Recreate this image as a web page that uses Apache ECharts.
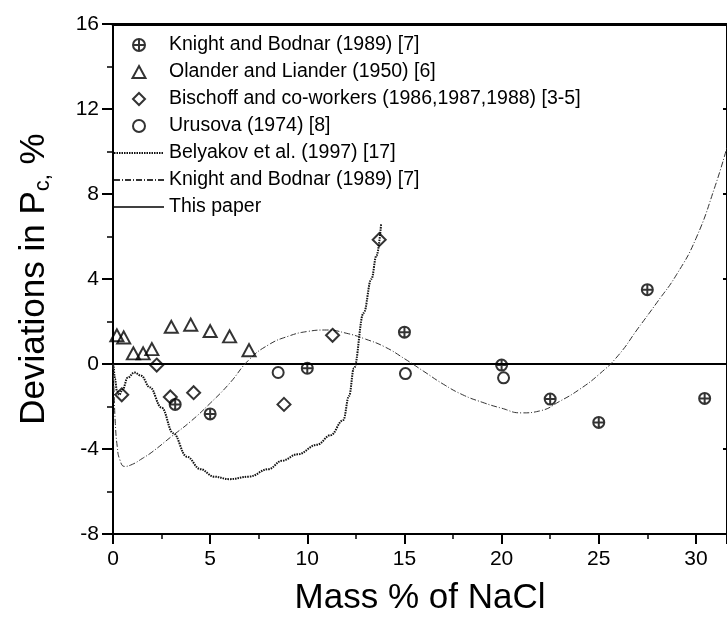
<!DOCTYPE html>
<html><head><meta charset="utf-8">
<script src="https://cdn.jsdelivr.net/npm/echarts@6/dist/echarts.min.js"></script>
<style>html,body{margin:0;padding:0;background:#fff}#c{width:727px;height:622px}</style>
</head><body><div id="c"></div>
<script>
// ---- data ----
const knightX = [3.2, 5.0, 10.0, 15.0, 20.0, 22.5, 25.0, 27.5, 30.45];
const knightY = [-1.9, -2.35, -0.2, 1.5, -0.05, -1.65, -2.75, 3.5, -1.62];

const olanderX = [0.2, 0.55, 1.05, 1.55, 2.0, 3.0, 4.0, 5.0, 6.0, 7.0];
const olanderY = [1.35, 1.25, 0.5, 0.5, 0.7, 1.75, 1.85, 1.55, 1.3, 0.65];

const bischoffX = [0.45, 2.25, 2.95, 4.15, 8.8, 11.3, 13.7];
const bischoffY = [-1.45, -0.05, -1.55, -1.35, -1.9, 1.35, 5.85];

const urusovaX = [8.5, 15.05, 20.1];
const urusovaY = [-0.4, -0.45, -0.65];

const belyakovX = [0.03, 0.1, 0.2, 0.32, 0.5, 0.75, 1.1, 1.45, 1.9, 2.5, 3.1, 3.8, 4.5, 5.2, 6.0, 7.0, 8.0, 8.7, 9.5, 10.5, 11.2, 11.85, 12.15, 12.4, 12.9, 13.3, 13.56, 13.8];
const belyakovY = [0, -0.7, -1.25, -1.45, -1.2, -0.65, -0.4, -0.55, -1.1, -2.05, -3.26, -4.36, -4.95, -5.3, -5.42, -5.3, -4.95, -4.55, -4.25, -3.8, -3.35, -2.64, -1.5, -0.2, 2.4, 4.0, 5.1, 6.6];

const knightFitX = [0, 0.05, 0.12, 0.22, 0.35, 0.6, 1.0, 1.5, 2.0, 3.0, 4.0, 5.0, 6.0, 7.0, 8.0, 9.0, 10.0, 11.0, 12.0, 13.0, 14.0, 15.0, 16.0, 17.0, 18.0, 19.0, 20.0, 21.0, 22.0, 23.0, 24.0, 25.0, 26.0, 27.0, 28.0, 29.0, 30.0, 31.0, 31.6];
const knightFitY = [0, -1.2, -2.8, -3.9, -4.5, -4.82, -4.72, -4.45, -4.15, -3.42, -2.7, -1.85, -0.91, 0.2, 0.9, 1.3, 1.53, 1.6, 1.45, 1.17, 0.8, 0.25, -0.35, -0.95, -1.45, -1.8, -2.08, -2.3, -2.2, -1.75, -1.2, -0.5, 0.4, 1.65, 2.9, 4.2, 5.9, 8.4, 10.2];

const thisPaperX = [0, 31.6];
const thisPaperY = [0, 0];

const xTicks = { min: 0, max: 31.6, interval: 5 };
const yTicks = { min: -8, max: 16, interval: 4 };

const names = [
  'Knight and Bodnar (1989) [7]',
  'Olander and Liander (1950) [6]',
  'Bischoff and co-workers (1986,1987,1988) [3-5]',
  'Urusova (1974) [8]',
  'Belyakov et al. (1997) [17]',
  'Knight and Bodnar (1989) [7] ',
  'This paper'
];

// ---- chart ----
const F = '"Liberation Sans", Arial, sans-serif';
const pair = (xs, ys) => xs.map((x, i) => [x, ys[i]]);
const plusCircle = 'path://M10,0 A10,10 0 1,1 -10,0 A10,10 0 1,1 10,0 Z M0,-10 L0,10 M-10,0 L10,0';
const triPath = 'path://M0,-12 L13,12 L-13,12 Z';
const diaPath = 'path://M0,-10 L10,0 L0,10 L-10,0 Z';
const hollow = { color: 'rgba(255,255,255,0)', borderColor: '#000', borderWidth: 2 };

const chart = echarts.init(document.getElementById('c'), null, { renderer: 'canvas' });
chart.setOption({
  animation: false,
  backgroundColor: '#fff',
  grid: { left: 113, top: 24, right: -1, bottom: 88, containLabel: false },
  legend: {
    orient: 'vertical', left: 113, top: 35, padding: 0,
    itemWidth: 50, itemHeight: 12, itemGap: 7,
    textStyle: { fontSize: 19.5, color: '#000', fontFamily: F },
    selectedMode: false,
    data: [
      { name: names[0] },
      { name: names[1], icon: triPath },
      { name: names[2], icon: diaPath },
      { name: names[3] },
      { name: names[4], itemStyle: { opacity: 0 } },
      { name: names[5], itemStyle: { opacity: 0 } },
      { name: names[6], itemStyle: { opacity: 0 }, lineStyle: { width: 1.3 } }
    ]
  },
  xAxis: [{
    type: 'value', position: 'bottom', min: xTicks.min, max: xTicks.max, interval: xTicks.interval,
    axisLine: { onZero: false, lineStyle: { color: '#000', width: 2 } },
    axisTick: { show: true, length: 10, lineStyle: { color: '#000', width: 2 } },
    minorTick: { show: true, splitNumber: 2, length: 5, lineStyle: { color: '#000', width: 1.5 } },
    splitLine: { show: false },
    axisLabel: { color: '#000', fontSize: 21, fontFamily: F, margin: 15, showMaxLabel: false },
    name: 'Mass % of NaCl', nameLocation: 'middle', nameGap: 47,
    nameTextStyle: { fontSize: 35, color: '#000', fontFamily: F }
  }, {
    type: 'value', position: 'top', min: xTicks.min, max: xTicks.max,
    axisLine: { onZero: false, lineStyle: { color: '#000', width: 3 } },
    axisTick: { show: false }, axisLabel: { show: false }, splitLine: { show: false }
  }],
  yAxis: [{
    type: 'value', position: 'left', min: yTicks.min, max: yTicks.max, interval: yTicks.interval,
    axisLine: { onZero: false, lineStyle: { color: '#000', width: 2 } },
    axisTick: { show: true, length: 11, lineStyle: { color: '#000', width: 2 } },
    minorTick: { show: true, splitNumber: 2, length: 6, lineStyle: { color: '#000', width: 1.5 } },
    splitLine: { show: false },
    axisLabel: { color: '#000', fontSize: 21, fontFamily: F, margin: 14 },
    name: '{a|Deviations in P}{s|c,}{a| %}', nameLocation: 'middle', nameGap: 61,
    nameTextStyle: {
      color: '#000', fontFamily: F,
      rich: {
        a: { fontSize: 35, lineHeight: 35, verticalAlign: 'top', fontFamily: F, color: '#000' },
        s: { fontSize: 22, lineHeight: 22, padding: [17, 0, 0, 0], fontFamily: F, color: '#000' }
      }
    }
  }, {
    type: 'value', position: 'right', min: yTicks.min, max: yTicks.max, interval: yTicks.interval,
    axisLine: { onZero: false, lineStyle: { color: '#000', width: 2 } },
    axisTick: { show: true, inside: true, length: 4, lineStyle: { color: '#000', width: 2 } },
    axisLabel: { show: false }, splitLine: { show: false }
  }],
  series: [
    { name: names[0], type: 'scatter', data: pair(knightX, knightY), symbol: plusCircle, symbolSize: 11, itemStyle: hollow, z: 5 },
    { name: names[1], type: 'scatter', data: pair(olanderX, olanderY), symbol: 'triangle', symbolSize: [13, 12], itemStyle: hollow, z: 5 },
    { name: names[2], type: 'scatter', data: pair(bischoffX, bischoffY), symbol: 'diamond', symbolSize: 13, itemStyle: hollow, z: 5 },
    { name: names[3], type: 'scatter', data: pair(urusovaX, urusovaY), symbol: 'circle', symbolSize: 11, itemStyle: hollow, z: 5 },
    { name: names[4], type: 'line', data: pair(belyakovX, belyakovY), symbol: 'none', smooth: 0.4, smoothMonotone: 'x',
      lineStyle: { color: '#111', width: 2, type: [1.5, 1] }, itemStyle: { color: '#111' }, z: 3 },
    { name: names[5], type: 'line', data: pair(knightFitX, knightFitY), symbol: 'none', smooth: 0.5,
      lineStyle: { color: '#333', width: 1, type: [6, 2, 1, 2] }, itemStyle: { color: '#333' }, z: 3 },
    { name: names[6], type: 'line', data: pair(thisPaperX, thisPaperY), symbol: 'none',
      lineStyle: { color: '#000', width: 2.2, type: 'solid' }, itemStyle: { color: '#000' }, z: 2 }
  ]
});
</script>
</body></html>
